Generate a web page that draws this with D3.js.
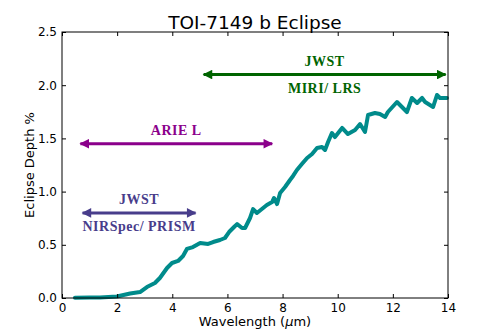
<!DOCTYPE html>
<html>
<head>
<meta charset="utf-8">
<script src="https://cdn.jsdelivr.net/npm/d3@7"></script>
<style>
  body { margin: 0; background: #fff; }
  text { font-family: "DejaVu Sans", sans-serif; }
  .inst { font-family: "Liberation Serif", serif; font-weight: bold; font-size: 14px; letter-spacing: 0.5px; }
</style>
</head>
<body>
<div id="chart"></div>
<script>
// spectrum
var wavelength = [0.47, 1.0, 1.38, 1.99, 2.47, 2.83, 3.08, 3.37, 3.55, 3.81, 3.99, 4.21, 4.39, 4.53, 4.75, 5.01, 5.30, 5.48, 5.73, 5.91,
    6.06, 6.24, 6.35, 6.53, 6.64, 6.82, 6.93, 7.07, 7.25, 7.43, 7.62, 7.69, 7.80, 7.91, 8.09, 8.27, 8.38, 8.52, 8.70, 8.89,
    9.07, 9.25, 9.43, 9.54, 9.65, 9.79, 9.90, 10.16, 10.37, 10.63, 10.81, 10.99, 11.10, 11.35, 11.53, 11.72, 11.82, 12.15, 12.33, 12.51,
    12.69, 12.88, 13.06, 13.17, 13.46, 13.60, 13.71, 13.96]
var depth = [0.003, 0.004, 0.005, 0.014, 0.042, 0.056, 0.103, 0.141, 0.188, 0.282, 0.329, 0.348, 0.395, 0.461, 0.479, 0.517, 0.508, 0.526, 0.545, 0.564,
    0.620, 0.667, 0.695, 0.658, 0.658, 0.752, 0.836, 0.799, 0.836, 0.874, 0.902, 0.940, 0.883, 0.987, 1.043, 1.109, 1.147, 1.203, 1.259, 1.316,
    1.353, 1.410, 1.419, 1.391, 1.466, 1.551, 1.513, 1.598, 1.541, 1.579, 1.635, 1.560, 1.720, 1.739, 1.729, 1.701, 1.748, 1.842, 1.795, 1.748,
    1.880, 1.833, 1.880, 1.842, 1.795, 1.908, 1.880, 1.880]

// instrument coverage arrows
var instNames = ["JWST MIRI", "ARIEL", "JWST NIRSpec"]
var instStart = [5.1, 0.63, 0.71]
var instEnd = [13.95, 7.66, 4.88]
var instLevel = [2.1, 1.45, 0.8]
var instAbove = ["JWST", "ARIE L", "JWST"]
var instBelow = ["MIRI/ LRS", "", "NIRSpec/ PRISM"]
var instColor = ["#006400", "#8b008b", "#483d8b"]

var xTicks = [0, 2, 4, 6, 8, 10, 12, 14]
var yTicks = [0, 0.5, 1.0, 1.5, 2.0, 2.5]

var W = 498, H = 332
var margin = {left: 62, right: 50, top: 32, bottom: 34}

var svg = d3.select("#chart").append("svg")
    .attr("width", W)
    .attr("height", H)

var x = d3.scaleLinear([0, 14], [margin.left, W - margin.right])
var y = d3.scaleLinear([0, 2.5], [H - margin.bottom, margin.top])

// arrowheads, one per colour
var defs = svg.append("defs")
instColor.forEach(function(c, i) {
    defs.append("marker")
        .attr("id", "head" + i)
        .attr("viewBox", "0 0 10 10")
        .attr("refX", 9)
        .attr("refY", 5)
        .attr("markerWidth", 3.6)
        .attr("markerHeight", 3.2)
        .attr("markerUnits", "strokeWidth")
        .attr("orient", "auto-start-reverse")
        .append("path")
        .attr("d", "M0,0L10,5L0,10Z")
        .attr("fill", c)
})

// spectrum
var pts = wavelength.map((w, i) => [w, depth[i]])
svg.append("path")
    .datum(pts)
    .attr("fill", "none")
    .attr("stroke", "#008b8b")
    .attr("stroke-width", 4)
    .attr("stroke-linejoin", "round")
    .attr("stroke-linecap", "round")
    .attr("d", d3.line().x(d => x(d[0])).y(d => y(d[1])))

// arrows + labels
instNames.forEach(function(n, i) {
    var x0 = x(instStart[i]), x1 = x(instEnd[i]), yy = y(instLevel[i])
    svg.append("line")
        .attr("x1", x0 + 1).attr("x2", x1 - 1)
        .attr("y1", yy).attr("y2", yy)
        .attr("stroke", instColor[i])
        .attr("stroke-width", 3)
        .attr("marker-start", "url(#head" + i + ")")
        .attr("marker-end", "url(#head" + i + ")")
    var cx = (x0 + x1) / 2
    svg.append("text").attr("class", "inst")
        .attr("x", cx).attr("y", yy - 9)
        .attr("text-anchor", "middle")
        .attr("fill", instColor[i])
        .text(instAbove[i])
    if (instBelow[i]) {
        svg.append("text").attr("class", "inst")
            .attr("x", cx).attr("y", yy + 18)
            .attr("text-anchor", "middle")
            .attr("fill", instColor[i])
            .text(instBelow[i])
    }
})

// axes, ticks pointing inward on all sides
var tl = 4
svg.append("g")
    .attr("transform", `translate(0,${y(0)})`)
    .call(d3.axisBottom(x).tickValues(xTicks).tickFormat(d3.format("d")).tickSizeInner(-tl).tickSizeOuter(0).tickPadding(5))
    .call(g => g.select(".domain").remove())
svg.append("g")
    .attr("transform", `translate(0,${y(2.5)})`)
    .call(d3.axisTop(x).tickValues(xTicks).tickFormat("").tickSizeInner(-tl).tickSizeOuter(0))
    .call(g => g.select(".domain").remove())
svg.append("g")
    .attr("transform", `translate(${x(0)},0)`)
    .call(d3.axisLeft(y).tickValues(yTicks).tickFormat(d3.format(".1f")).tickSizeInner(-tl).tickSizeOuter(0).tickPadding(5))
    .call(g => g.select(".domain").remove())
svg.append("g")
    .attr("transform", `translate(${x(14)},0)`)
    .call(d3.axisRight(y).tickValues(yTicks).tickFormat("").tickSizeInner(-tl).tickSizeOuter(0))
    .call(g => g.select(".domain").remove())

svg.selectAll(".tick text")
    .attr("font-family", "DejaVu Sans, sans-serif")
    .attr("font-size", 12)
    .attr("fill", "#000")
svg.selectAll(".tick line").attr("stroke", "#000")

svg.append("rect")
    .attr("x", x(0)).attr("y", y(2.5))
    .attr("width", x(14) - x(0)).attr("height", y(0) - y(2.5))
    .attr("fill", "none")
    .attr("stroke", "#000")
    .attr("stroke-width", 1)

svg.append("text")
    .attr("x", (x(0) + x(14)) / 2).attr("y", 29)
    .attr("text-anchor", "middle")
    .attr("font-size", 18.5)
    .text("TOI-7149 b Eclipse")

var xl = svg.append("text")
    .attr("x", (x(0) + x(14)) / 2).attr("y", 326)
    .attr("text-anchor", "middle")
    .attr("font-size", 13)
xl.append("tspan").text("Wavelength (")
xl.append("tspan").attr("font-style", "italic").text("\u03bc")
xl.append("tspan").text("m)")

svg.append("text")
    .attr("transform", `translate(34,${(y(0) + y(2.5)) / 2}) rotate(-90)`)
    .attr("text-anchor", "middle")
    .attr("font-size", 13)
    .text("Eclipse Depth %")
</script>
</body>
</html>
